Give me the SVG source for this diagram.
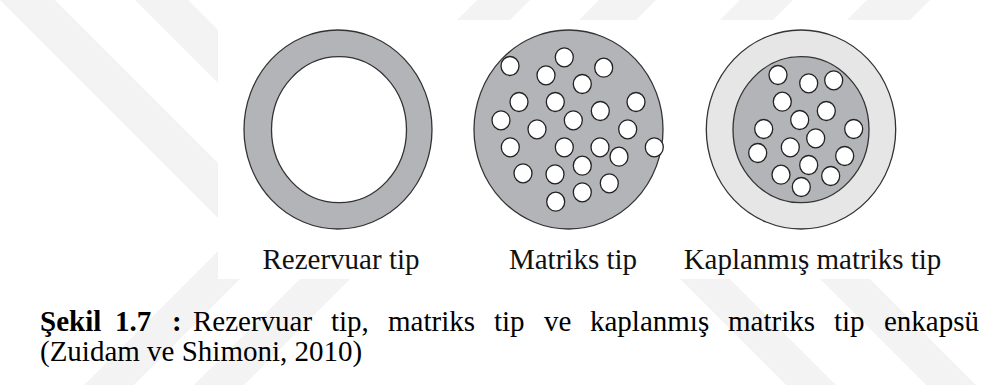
<svg xmlns="http://www.w3.org/2000/svg" width="983" height="385" viewBox="0 0 983 385">
<style>
.wm{fill:#f3f3f3}
.ring{stroke:#333;stroke-width:1.3}
.dark{fill:#b3b4b7}
.light{fill:#e6e6e6}
.hole{fill:#fff;stroke:#222;stroke-width:1.3}
.lbl{font-family:"Liberation Serif","Times New Roman",serif;font-size:29px;fill:#111}
.cap{font-family:"Liberation Serif","Times New Roman",serif;font-size:29px;fill:#000}
.b{font-weight:bold}
</style>
<rect width="983" height="385" fill="#fff"/>
<g id="watermark">
<polygon class="wm" points="0,0 55,0 305,250 250,250"/>
<polygon class="wm" points="135,0 188,0 388,200 335,200"/>
<polygon class="wm" points="269,200 319,200 134,385 84,385"/>
<polygon class="wm" points="379,200 429,200 244,385 194,385"/>
<polygon class="wm" points="651,250 701,250 836,385 786,385"/>
<polygon class="wm" points="791,250 841,250 976,385 926,385"/>
<polygon class="wm" points="477,0 530,0 505,25 452,25"/>
<polygon class="wm" points="599,0 656,0 631,25 574,25"/>
<polygon class="wm" points="740,0 793,0 768,25 715,25"/>
<polygon class="wm" points="867,0 930,0 905,25 842,25"/>
</g>
<rect x="218" y="20" width="765" height="259" fill="#fff"/>
<g id="rezervuar">
<ellipse class="ring dark" cx="338" cy="129.5" rx="94" ry="99.5"/>
<ellipse class="ring" fill="#fff" cx="339" cy="129.7" rx="67.5" ry="73"/>
<text class="lbl" x="341" y="269" text-anchor="middle">Rezervuar tip</text>
</g>
<g id="matriks">
<ellipse class="ring dark" cx="568.5" cy="129.5" rx="94.5" ry="99.5"/>
<g>
<ellipse class="hole" cx="510" cy="66" rx="9" ry="9.5"/>
<ellipse class="hole" cx="564.3" cy="57.3" rx="9" ry="9.5"/>
<ellipse class="hole" cx="603.7" cy="67.7" rx="9" ry="9.5"/>
<ellipse class="hole" cx="546" cy="75.3" rx="9" ry="9.5"/>
<ellipse class="hole" cx="582.3" cy="84" rx="9" ry="9.5"/>
<ellipse class="hole" cx="519" cy="102" rx="9" ry="9.5"/>
<ellipse class="hole" cx="555.3" cy="102" rx="9" ry="9.5"/>
<ellipse class="hole" cx="600.3" cy="111" rx="9" ry="9.5"/>
<ellipse class="hole" cx="636" cy="102" rx="9" ry="9.5"/>
<ellipse class="hole" cx="501" cy="120.3" rx="9" ry="9.5"/>
<ellipse class="hole" cx="573.3" cy="120.3" rx="9" ry="9.5"/>
<ellipse class="hole" cx="537" cy="129.3" rx="9" ry="9.5"/>
<ellipse class="hole" cx="627.7" cy="129.3" rx="9" ry="9.5"/>
<ellipse class="hole" cx="510.3" cy="147.3" rx="9" ry="9.5"/>
<ellipse class="hole" cx="564.3" cy="147.3" rx="9" ry="9.5"/>
<ellipse class="hole" cx="600" cy="147.3" rx="9" ry="9.5"/>
<ellipse class="hole" cx="619" cy="156.7" rx="9" ry="9.5"/>
<ellipse class="hole" cx="654.3" cy="147.3" rx="9" ry="9.5"/>
<ellipse class="hole" cx="582.3" cy="165.7" rx="9" ry="9.5"/>
<ellipse class="hole" cx="523" cy="173.3" rx="9" ry="9.5"/>
<ellipse class="hole" cx="555" cy="174.3" rx="9" ry="9.5"/>
<ellipse class="hole" cx="609.3" cy="183.3" rx="9" ry="9.5"/>
<ellipse class="hole" cx="582.3" cy="192.3" rx="9" ry="9.5"/>
<ellipse class="hole" cx="555.7" cy="201.7" rx="9" ry="9.5"/>
</g>
<text class="lbl" x="573" y="269" text-anchor="middle">Matriks tip</text>
</g>
<g id="kaplanmis">
<ellipse class="ring light" cx="801" cy="129.5" rx="94.7" ry="99.5"/>
<ellipse class="ring dark" cx="801" cy="129.7" rx="68" ry="73"/>
<g>
<ellipse class="hole" cx="778" cy="75" rx="9" ry="9.5"/>
<ellipse class="hole" cx="808.7" cy="83.3" rx="9" ry="9.5"/>
<ellipse class="hole" cx="833.7" cy="80.3" rx="9" ry="9.5"/>
<ellipse class="hole" cx="782.3" cy="101.7" rx="9" ry="9.5"/>
<ellipse class="hole" cx="826.3" cy="111" rx="9" ry="9.5"/>
<ellipse class="hole" cx="799.7" cy="120" rx="9" ry="9.5"/>
<ellipse class="hole" cx="763.7" cy="129" rx="9" ry="9.5"/>
<ellipse class="hole" cx="853.7" cy="129" rx="9" ry="9.5"/>
<ellipse class="hole" cx="815.7" cy="138.3" rx="9" ry="9.5"/>
<ellipse class="hole" cx="790.3" cy="147.3" rx="9" ry="9.5"/>
<ellipse class="hole" cx="757.7" cy="153" rx="9" ry="9.5"/>
<ellipse class="hole" cx="844.7" cy="156" rx="9" ry="9.5"/>
<ellipse class="hole" cx="808.7" cy="165" rx="9" ry="9.5"/>
<ellipse class="hole" cx="781" cy="174.7" rx="9" ry="9.5"/>
<ellipse class="hole" cx="830.7" cy="176" rx="9" ry="9.5"/>
<ellipse class="hole" cx="801.3" cy="187" rx="9" ry="9.5"/>
</g>
<text class="lbl" x="812.5" y="269" text-anchor="middle">Kaplanmış matriks tip</text>
</g>
<g id="caption">
<text class="cap" y="331"><tspan class="b" x="40">Şekil</tspan><tspan class="b" x="115">1.7</tspan><tspan class="b" x="172">:</tspan><tspan x="193">Rezervuar</tspan><tspan x="331">tip,</tspan><tspan x="388">matriks</tspan><tspan x="494">tip</tspan><tspan x="544">ve</tspan><tspan x="590">kaplanmış</tspan><tspan x="728">matriks</tspan><tspan x="834">tip</tspan><tspan x="884">enkapsü</tspan></text>
<text class="cap" x="40" y="361">(Zuidam ve Shimoni, 2010)</text>
</g>
</svg>
